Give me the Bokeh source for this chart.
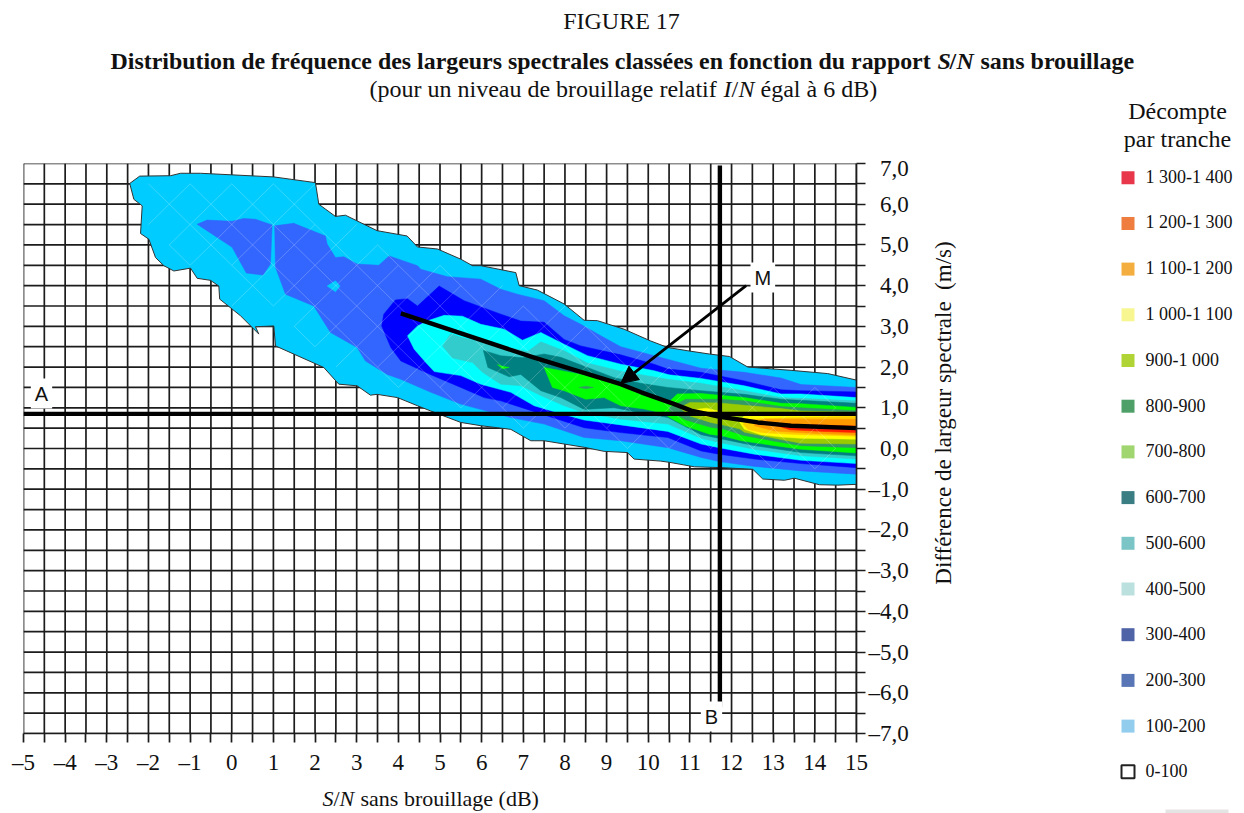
from bokeh.plotting import figure
from bokeh.models import Label, Arrow, NormalHead, FixedTicker
from bokeh.layouts import column, row
from bokeh.embed import file_html
from bokeh.resources import INLINE

# ---- tick values and labels
X_TICKS = [-5 + 0.5 * i for i in range(41)]
Y_TICKS = [-7 + 0.5 * i for i in range(29)]
X_LABELS = ["–5", "–4", "–3", "–2", "–1", "0", "1", "2", "3", "4", "5", "6", "7", "8", "9", "10", "11", "12", "13", "14", "15"]
Y_LABELS = ["–7,0", "–6,0", "–5,0", "–4,0", "–3,0", "–2,0", "–1,0", "\u20020,0", "\u20021,0", "\u20022,0", "\u20023,0", "\u20024,0", "\u20025,0", "\u20026,0", "\u20027,0"]

# ---- legend
CATEGORIES = ["1 300-1 400", "1 200-1 300", "1 100-1 200", "1 000-1 100", "900-1 000", "800-900", "700-800",
              "600-700", "500-600", "400-500", "300-400", "200-300", "100-200", "0-100"]
LEGEND_COLORS = ["#E8364A", "#EE7D3F", "#F4AE3F", "#F7F690", "#B0D335", "#4F9F68", "#A0D56F",
                 "#3A7E84", "#7BC5C6", "#BBE0DE", "#4F63A7", "#5876B6", "#93CDEE", "#FFFFFF"]

# ---- outlines of the count bands (x = S/N in dB, y = spectral width difference in m/s)
BAND_100 = [(-2.45,6.51),(-2.21,6.69),(-1.47,6.70),(-1.23,6.76),(-0.75,6.76),(1.01,6.67),(2.01,6.53),(2.09,6.0),(2.49,5.70),
            (2.73,5.73),(3.49,5.35),(4.21,5.22),(4.46,4.95),(4.94,4.90),(5.50,4.65),(5.78,4.49),(5.98,4.49),(6.82,4.32),(6.90,4.0),
            (7.34,3.89),(7.98,3.55),(8.46,3.15),(8.78,3.14),(9.42,2.93),(10.06,2.64),(10.47,2.48),(10.95,2.40),(11.47,2.32),
            (11.95,2.26),(12.39,2.0),(13.43,1.92),(14.31,1.84),(15,1.68),
            (15,-0.88),(14.55,-0.90),(14.11,-0.89),(13.51,-0.73),(13.27,-0.78),(12.75,-0.75),(12.51,-0.51),(11.75,-0.47),(11.11,-0.45),
            (10.51,-0.34),(10.30,-0.31),(9.66,-0.26),(9.50,-0.10),(8.94,-0.07),(8.46,0.03),(7.50,0.19),(7.18,0.19),(6.70,0.47),
            (5.98,0.56),(5.50,0.64),(4.78,0.92),(4.46,1.05),(3.98,1.25),(3.49,1.33),(3.33,1.31),(3.01,1.54),(2.57,1.58),(2.21,1.99),
            (1.05,2.52),(1.01,3.01),(0.57,2.99),(0.65,2.81),(0.21,3.26),(-0.29,3.67),(-0.31,3.99),(-0.51,4.13),(-0.83,4.18),
            (-0.99,4.43),(-1.39,4.36),(-1.63,4.49),(-1.83,4.69),(-1.99,5.14),(-2.19,5.28),(-2.15,5.96),(-2.35,6.12)]
BAND_200_LOBE = [(-0.83,5.51),(-0.59,5.61),(0.01,5.58),(0.29,5.65),(0.57,5.63),(0.97,5.49),(0.93,4.53),(0.75,4.26),(0.35,4.31),(0.01,4.94)]
BAND_200 = [(1.03,5.47),(1.49,5.53),(2.25,5.22),(2.29,5.02),(2.49,4.69),(2.69,4.71),(3.01,4.53),(3.53,4.50),(3.78,4.73),(4.46,4.49),
            (4.54,4.40),(5.18,4.22),(5.98,4.16),(6.46,3.91),(6.86,3.79),(7.50,3.63),(7.98,3.26),(8.38,3.05),(8.86,2.77),(9.34,2.50),
            (10.14,2.28),(11.27,1.97),(12.31,1.87),(13.19,1.73),(13.67,1.57),(15,1.50),
            (15,-0.63),(13.67,-0.55),(12.55,-0.44),(11.7,-0.32),(11.27,-0.22),(10.47,0.02),(9.34,0.19),(8.46,0.27),(7.5,0.60),(6.70,0.76),
            (5.5,1.09),(4.78,1.38),(4.06,1.70),(3.73,1.82),(3.21,2.15),(3.01,2.48),(2.37,2.85),(1.97,3.50),(1.29,3.79),(1.05,4.45)]
HOLE_100 = [(2.29,3.99),(2.49,4.12),(2.60,3.99),(2.49,3.85)]
BAND_300 = [(3.60,3.01),(3.65,3.30),(3.93,3.65),(4.22,3.68),(4.46,3.50),(4.98,3.99),(5.58,3.63),(6.46,3.30),(6.94,3.13),(7.50,3.10),
            (7.98,2.68),(8.38,2.52),(9.34,2.30),(10.14,2.07),(10.47,1.95),(11.27,1.87),(12.31,1.66),(13.19,1.44),(13.67,1.42),(15,1.39),
            (15,-0.47),(13.67,-0.37),(12.55,-0.26),(11.7,-0.14),(11.27,-0.06),(10.47,0.27),(9.34,0.39),(8.46,0.51),(7.34,0.88),(6.46,1.17),
            (6.06,1.25),(5.50,1.50),(4.74,1.83),(4.06,2.15),(3.82,2.48)]
BAND_400 = [(4.22,2.77),(4.46,3.01),(4.74,3.15),(5.10,3.27),(5.54,3.25),(5.98,3.05),(6.54,2.93),(6.98,2.66),(7.42,2.85),(7.98,2.56),
            (8.54,2.28),(9.34,2.07),(10.14,1.91),(10.5,1.81),(11.27,1.72),(12.31,1.54),(13.19,1.34),(13.67,1.34),(15,1.25),
            (15,-0.37),(13.67,-0.29),(12.55,-0.14),(11.7,0.02),(11.27,0.11),(10.47,0.42),(9.34,0.58),(8.46,0.70),(7.82,0.88),(7.26,1.05),
            (6.70,1.38),(5.98,1.58),(5.50,1.79),(4.86,1.89),(4.66,2.11),(4.38,2.44)]
BAND_500 = [(5.06,2.52),(5.26,2.82),(5.50,2.73),(6.30,2.55),(7.10,2.38),(7.42,2.62),(7.98,2.40),(8.54,2.10),(9.34,1.90),(10.47,1.70),
            (11.27,1.60),(12.31,1.42),(13.19,1.25),(15,1.17),
            (15,-0.26),(13.67,-0.18),(12.55,-0.02),(11.7,0.15),(11.27,0.25),(10.47,0.60),(9.34,0.72),(8.46,0.88),(7.98,1.05),(7.42,1.30),
            (6.94,1.54),(6.46,1.58),(6.02,1.87),(5.78,2.11),(5.30,2.22)]
BAND_600 = [(6.04,2.41),(6.46,2.28),(6.98,2.23),(7.50,2.32),(7.90,2.24),(8.54,1.99),(9.18,1.74),(9.82,1.60),(10.47,1.50),(11.27,1.42),
            (12.31,1.33),(13.19,1.21),(15,1.11),
            (15,-0.18),(13.67,-0.10),(12.55,0.07),(11.79,0.23),(11.27,0.34),(10.47,0.76),(9.82,0.88),(9.18,1.00),(8.46,0.96),(7.90,1.25),
            (7.42,1.42),(6.94,1.82),(6.66,1.76),(6.15,1.99)]
BAND_700 = [(7.50,1.99),(8.5,1.80),(9.34,1.58),(10.2,1.25),(10.5,1.15),(10.7,1.34),(11.27,1.35),(11.79,1.30),(12.31,1.25),(13.19,1.11),
            (13.67,1.10),(15,1.01),
            (15,-0.11),(13.67,-0.02),(13.03,0.07),(12.23,0.19),(11.79,0.31),(11.47,0.35),(10.87,0.56),(10.51,0.76),(10.38,0.86),(9.90,0.97),
            (9.34,1.05),(8.94,1.25),(8.5,1.21),(7.98,1.42),(7.70,1.50)]
SPOT_700 = [(6.38,2.06),(6.5,2.02),(6.66,1.99),(6.5,1.96)]
BAND_800 = [(10.51,1.01),(10.9,1.21),(11.7,1.21),(12.31,1.17),(13.19,1.03),(13.67,1.00),(15,0.93),
            (15,0.02),(13.67,0.07),(13.03,0.18),(12.3,0.32),(11.8,0.48),(11.5,0.52),(10.9,0.70),(10.51,0.93)]
SPOT_800 = [(8.34,1.50),(8.5,1.53),(8.68,1.50),(8.5,1.47)]
BAND_900 = [(10.75,1.0),(11.0,1.13),(11.7,1.12),(12.31,1.06),(13.19,0.98),(13.67,0.92),(15,0.885),
            (15,0.11),(13.67,0.13),(13.19,0.22),(12.31,0.40),(12.2,0.48),(11.8,0.58),(11.5,0.64),(11.0,0.80)]
BAND_1000 = [(12.19,0.65),(12.31,0.80),(13.19,0.80),(15,0.83),(15,0.23),(13.67,0.25),(13.19,0.28),(12.71,0.34),(12.31,0.47)]
SPOT_1000 = [(11.05,0.95),(11.4,0.99),(11.75,0.90),(11.75,0.78),(11.4,0.78)]
BAND_1100 = [(12.27,0.60),(12.47,0.72),(13.19,0.75),(15,0.79),(15,0.30),(13.67,0.34),(13.19,0.36),(12.71,0.39),(12.39,0.47)]
BAND_1200 = [(12.55,0.60),(12.79,0.72),(15,0.72),(15,0.33),(13.99,0.37),(13.03,0.43),(12.55,0.56)]
BAND_1300 = [(12.9,0.62),(13.3,0.60),(15,0.55),(15,0.39),(14.2,0.42),(13.4,0.46)]

# colours of the surface, outermost first
BANDS = [(BAND_100, "#00CCFF"), (BAND_200, "#3366FF"), (BAND_200_LOBE, "#3366FF"), (HOLE_100, "#00CCFF"),
         (BAND_300, "#0000FF"), (BAND_400, "#00FFFF"), (BAND_500, "#33CCCC"), (BAND_600, "#008080"),
         (BAND_700, "#00FF00"), (SPOT_700, "#00FF00"), (SPOT_800, "#339966"), (BAND_800, "#339966"),
         (BAND_900, "#99CC00"), (SPOT_1000, "#FFFF00"), (BAND_1000, "#FFFF00"), (BAND_1100, "#FFCC00"),
         (BAND_1200, "#FF9900"), (BAND_1300, "#FF2000")]

# ---- reference lines
LINE_A_Y = 0.85
LINE_B_X = 11.72
LINE_B_END = -6.35
CURVE_M_X = [4.06, 7.26, 9.34, 9.83, 10.63, 11.03, 11.72, 12.63, 13.43, 15]
CURVE_M_Y = [3.32, 2.23, 1.58, 1.38, 1.09, 0.93, 0.78, 0.64, 0.56, 0.50]
ARROW_M = (12.35, 4.0, 9.34, 1.60)

# ---- page geometry
WIDTH, HEIGHT = 1244, 813
TOP_H = 155
MAIN_W, MAIN_H = 916, 625
LEFT, FW, FH = 23, 833, 570
SIDE_SHIFT = 7.5
SERIF = "Liberation Serif"
SANS = "Liberation Sans"
INK = "#1c1c1c"
TEXT = "#111111"


def panel(x0, y0, w, h):
    """A figure without axes whose data coordinates are the page's pixels."""
    f = figure(frame_width=w, frame_height=h, x_range=(x0, x0 + w), y_range=(y0 + h, y0), x_axis_location=None,
               y_axis_location=None, toolbar_location=None, output_backend="svg", min_border=0, outline_line_color=None)
    f.grid.visible = False
    return f


def put(f, px, py, text, size=24, style="normal", align="left", angle=0):
    """px, py: page position of the text's vertical middle (the axis title: its horizontal middle)."""
    f.add_layout(Label(x=px, y=py, text=text, text_font=SERIF, text_font_size=f"{size}px", text_font_style=style,
                       text_align=align, text_baseline="alphabetic", text_color=TEXT, angle=angle))


# ---- main chart
p = figure(frame_width=FW, frame_height=FH, x_range=(-5, 15), y_range=(-7, 7), y_axis_location="right",
           toolbar_location=None, output_backend="svg", min_border_left=LEFT, min_border_top=163 - TOP_H,
           min_border_right=MAIN_W - LEFT - FW, min_border_bottom=MAIN_H - (163 - TOP_H) - FH, outline_line_color=None)
p.grid.visible = False

p.multi_line([[x, x] for x in X_TICKS], [[-7, 7] for _ in X_TICKS], line_color=INK, line_width=1.7)
p.multi_line([[-5, 15] for _ in Y_TICKS], [[y, y] for y in Y_TICKS], line_color=INK, line_width=1.7)

for i, (band, colour) in enumerate(BANDS):
    xs, ys = zip(*band)
    outline = dict(line_color="#333333", line_width=1) if i == 0 else dict(line_color=colour, line_width=0.5)
    p.patch(list(xs), list(ys), fill_color=colour, **outline)


def inside(x, y):
    hit = False
    n = len(BAND_100)
    for k in range(n):
        x1, y1 = BAND_100[k]
        x2, y2 = BAND_100[(k + 1) % n]
        if (y1 > y) != (y2 > y) and x < x1 + (y - y1) * (x2 - x1) / (y2 - y1):
            hit = not hit
    return hit


# faint mesh of the surface
mx, my = [], []
for i in range(len(X_TICKS) - 1):
    for j in range(len(Y_TICKS) - 1):
        x0, x1, y0, y1 = X_TICKS[i], X_TICKS[i + 1], Y_TICKS[j], Y_TICKS[j + 1]
        if all(inside(a, b) for a, b in [(x0, y0), (x1, y0), (x0, y1), (x1, y1)]):
            mx.append([x0, x1])
            my.append([y0, y1] if (i + j) % 2 else [y1, y0])
p.multi_line(mx, my, line_color="#FFFFFF", line_alpha=0.22, line_width=1)

p.line([-5, 15], [LINE_A_Y, LINE_A_Y], line_color="#000000", line_width=4.4)
p.line([LINE_B_X, LINE_B_X], [6.95, LINE_B_END], line_color="#000000", line_width=4.4)
p.line(CURVE_M_X, CURVE_M_Y, line_color="#000000", line_width=4.4)
p.add_layout(Arrow(x_start=ARROW_M[0], y_start=ARROW_M[1], x_end=ARROW_M[2], y_end=ARROW_M[3], line_color="#000000", line_width=2.8,
                   end=NormalHead(size=17, fill_color="#000000", line_color="#000000")))

for ax, ticks, labels, vals in [(p.xaxis[0], X_TICKS, X_LABELS, range(-5, 16)), (p.yaxis[0], Y_TICKS, Y_LABELS, range(-7, 8))]:
    ax.ticker = FixedTicker(ticks=ticks)
    ax.major_label_overrides = {t: (labels[list(vals).index(int(t))] if float(t).is_integer() else "") for t in ticks}
    ax.major_tick_out = 9
    ax.major_tick_in = 0
    ax.minor_tick_out = 0
    ax.minor_tick_in = 0
    ax.major_tick_line_color = INK
    ax.major_tick_line_width = 1.7
    ax.axis_line_color = INK
    ax.axis_line_width = 1.7
    ax.major_label_text_font = SERIF
    ax.major_label_text_font_size = "23px"
    ax.major_label_text_color = TEXT
p.xaxis[0].major_label_standoff = 7
p.yaxis[0].major_label_standoff = 3

# letters on white boxes (offsets from the frame's bottom-left corner, in pixels)
for px, py, letter in [(41, 393, "A"), (750, 277, "M"), (711, 716, "B")]:
    p.add_layout(Label(x=px - LEFT, y=733 - py, x_units="screen", y_units="screen", text=letter, text_font=SANS,
                       text_font_size="20px", text_align="left" if letter == "M" else "center", text_baseline="alphabetic",
                       text_color=TEXT, background_fill_color="#FFFFFF", padding=4))

# ---- top: titles and legend heading
top = panel(0, 0, WIDTH, TOP_H)
put(top, 621, 20, "FIGURE 17", align="center")
put(top, 110, 60, "Distribution de fréquence des largeurs spectrales classées en fonction du rapport", size=23.9, style="bold")
put(top, 937, 60, "S", style="bold italic")
put(top, 949, 60, "/", style="bold")
put(top, 956, 60, "N", style="bold italic")
put(top, 980, 60, "sans brouillage", style="bold")
put(top, 369, 88, "(pour un niveau de brouillage relatif")
put(top, 723, 88, "I", style="italic")
put(top, 731, 88, "/")
put(top, 738, 88, "N", style="italic")
put(top, 760, 88, "égal à 6 dB)")
put(top, 1177, 110, "Décompte", align="center")
put(top, 1177, 138, "par tranche", align="center")

# ---- right: axis title and legend
side = panel(MAIN_W, TOP_H, WIDTH - MAIN_W, MAIN_H)
put(side, 943, 412 - SIDE_SHIFT, "Différence de largeur spectrale\u00a0 (m/s)", size=23, align="center", angle=1.5708)
for i, (name, colour) in enumerate(zip(CATEGORIES, LEGEND_COLORS)):
    cy = 176.7 + i * 45.7 - SIDE_SHIFT
    outlined = colour == "#FFFFFF"
    side.quad(left=[1121], right=[1134], top=[cy - 6.5], bottom=[cy + 6.5], fill_color=colour,
              line_color="#222222" if outlined else None, line_width=2)
    put(side, 1145, cy - 1, name, size=18)

# ---- bottom: axis title
bottom = panel(0, TOP_H + MAIN_H, WIDTH, HEIGHT - TOP_H - MAIN_H)
put(bottom, 322, 798, "S", size=22, style="italic")
put(bottom, 333, 798, "/", size=22)
put(bottom, 339, 798, "N", size=22, style="italic")
put(bottom, 360, 798, "sans brouillage (dB)", size=22)
bottom.quad(left=[1165], right=[1228], top=[809], bottom=[813], fill_color="#E4E4E4", line_color=None)

page = column(top, row(p, side), bottom)
open("out.html", "w").write(file_html(page, INLINE))
